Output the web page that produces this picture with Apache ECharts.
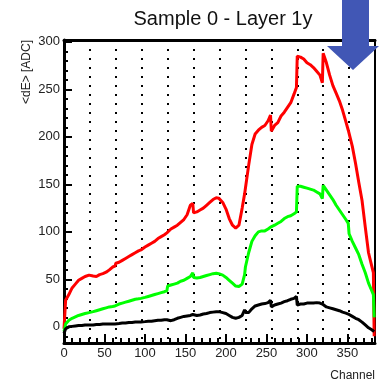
<!DOCTYPE html>
<html>
<head>
<meta charset="utf-8">
<script src="https://cdn.jsdelivr.net/npm/echarts@6/dist/echarts.min.js"></script>
<style>
  html, body { margin: 0; padding: 0; background: #fff; }
  #chart { width: 379px; height: 384px; }
</style>
</head>
<body>
<div id="chart"></div>
<script>
// channels sampled along the x axis (extra points at the 32-channel chip edges)
const channels = [0, 2, 6, 10, 14, 18, 22, 26, 31, 32, 36, 40, 44, 48, 52, 56, 60, 63,
  64, 68, 72, 76, 80, 84, 88, 92, 95, 96, 100, 104, 108, 112, 116, 120, 124, 127,
  128, 132, 136, 140, 144, 148, 152, 156, 159, 160, 164, 168, 172, 176, 180, 184, 188, 191,
  192, 196, 200, 204, 208, 212, 216, 220, 223, 224, 228, 232, 236, 240, 244, 248, 252, 255,
  256, 260, 264, 268, 272, 276, 280, 284, 287, 288, 292, 296, 300, 304, 308, 312, 316, 319,
  320, 324, 328, 332, 336, 340, 344, 348, 351, 352, 356, 360, 364, 368, 372, 376, 380, 382, 383]

const redValues = [-2, 28, 34, 41, 45, 49, 51, 53, 54.5, 55, 53.5, 53, 55, 56, 57.5, 60, 63, 64,
  67, 68, 70, 72, 74, 76, 78, 80, 81, 82, 84, 86, 88, 90, 93, 95, 97, 99,
  101, 103, 105, 107, 110, 113, 118, 128, 130, 120, 121, 123, 125, 128, 131, 134, 136, 135.5,
  135, 131, 124, 114, 107, 104, 107, 125, 140, 146, 170, 192, 203, 207, 210, 212, 217, 223,
  206, 212, 215, 222, 226, 231, 236, 245, 252, 285, 284, 282, 278, 276, 273, 269, 265, 257,
  288, 278, 265, 254, 246, 238, 228, 216, 207, 205, 190, 172, 152, 133, 105, 78, 64, 57, -10]

const greenValues = [-5, 3, 7, 9, 10.5, 12, 13, 14, 15, 15.5, 16, 17, 18, 19, 20, 21, 21.5, 22,
  23.5, 24, 25, 26, 27, 28, 29, 29.5, 30, 30.5, 31, 32, 33, 34, 35, 36, 37, 38,
  43, 44, 45, 46, 48, 49, 51, 53, 57, 52, 51.5, 52, 53, 54, 55, 56, 56.5, 56,
  56, 54.5, 52, 49, 46, 43, 42.5, 45, 55, 63, 78, 90, 96, 100, 101, 101, 103, 105,
  104, 107, 109, 111, 114, 116, 117, 119, 121, 148, 148, 147, 146, 145, 144, 142, 140, 135,
  149, 144, 139, 134, 128, 123, 118, 113, 109, 98, 90, 83, 76, 66, 57, 46, 38, 34, 10]

const blackValues = [-7, -2, 0, 0.5, 1, 1.5, 1.5, 2, 2, 2.5, 2, 2.5, 2.5, 3, 3, 3, 3, 3,
  3.5, 3.5, 4, 4, 4.5, 4.5, 5, 5, 5, 5.5, 5.5, 6, 6, 6.5, 7, 7, 7.5, 7.5,
  6, 6.5, 7.5, 9, 10, 11, 11.5, 12, 13, 12, 12, 12.5, 13.5, 14, 15, 15.5, 16, 16,
  16, 15, 14, 12, 10, 9, 10, 12, 18, 15, 15, 19, 22, 23, 24, 24.5, 25.5, 28,
  21, 23, 24, 25, 26.5, 27.5, 29, 30, 32, 23, 24, 24, 25, 25, 25, 25.5, 25, 24,
  23, 21, 20, 19, 18, 17, 15.5, 14.5, 13.5, 13, 11, 9, 7.5, 5, 2, -1, -3, -4, -5]

const xMajorTicks = [0, 50, 100, 150, 200, 250, 300, 350]
const yMajorTicks = [0, 50, 100, 150, 200, 250, 300]
const xMinorTicks = []
for (let v = 10; v <= 380; v += 10) if (v % 50 !== 0) xMinorTicks.push(v)
const yMinorTicks = []
for (let v = -10; v <= 300; v += 10) if (v % 50 !== 0) yMinorTicks.push(v)

const X_MIN = 0, X_MAX = 384, Y_MIN = -17, Y_MAX = 302
const font = 'Liberation Sans, Arial, sans-serif'

function pairs(vals) {
  return channels.map((c, i) => [c, vals[i]])
}

function plainAxis(extra) {
  return Object.assign({
    type: 'value',
    axisLine: { show: false, onZero: false },
    axisTick: { show: false },
    axisLabel: { show: false },
    splitLine: { show: false }
  }, extra)
}

const chart = echarts.init(document.getElementById('chart'))
chart.setOption({
  animation: false,
  backgroundColor: '#fff',
  title: {
    text: 'Sample 0 - Layer 1y',
    left: 218,
    top: 4,
    textAlign: 'center',
    textStyle: { fontFamily: font, fontSize: 20, fontWeight: 'normal', color: '#111' }
  },
  grid: { left: 64, right: 4, top: 40, bottom: 41 },
  xAxis: [
    plainAxis({
      min: X_MIN, max: X_MAX, position: 'bottom',
      axisLine: { show: true, onZero: false, lineStyle: { color: '#000', width: 3 } },
      axisTick: { show: true, inside: true, length: 9, customValues: xMajorTicks, lineStyle: { color: '#000', width: 2 } },
      axisLabel: { show: true, customValues: xMajorTicks, fontFamily: font, fontSize: 13, color: '#222', margin: 4 },
      name: 'Channel', nameLocation: 'end', nameGap: 0,
      nameTextStyle: { fontFamily: font, fontSize: 12, color: '#222', align: 'right', verticalAlign: 'top', padding: [27, 0, 0, 0] }
    }),
    plainAxis({
      min: X_MIN, max: X_MAX, position: 'bottom',
      axisTick: { show: true, inside: true, length: 5, customValues: xMinorTicks, lineStyle: { color: '#000', width: 2 } }
    }),
    plainAxis({
      min: X_MIN, max: X_MAX, position: 'top',
      axisLine: { show: true, onZero: false, lineStyle: { color: '#000', width: 3 } }
    }),
    plainAxis({
      min: X_MIN, max: X_MAX, interval: 32, position: 'bottom',
      splitLine: { show: true, lineStyle: { color: '#000', width: 2, type: [2, 7] } }
    })
  ],
  yAxis: [
    plainAxis({
      min: Y_MIN, max: Y_MAX, position: 'left',
      axisLine: { show: true, onZero: false, lineStyle: { color: '#000', width: 3 } },
      axisTick: { show: true, inside: true, length: 8, customValues: yMajorTicks, lineStyle: { color: '#000', width: 2 } },
      axisLabel: { show: true, customValues: yMajorTicks, fontFamily: font, fontSize: 13, color: '#222', margin: 4 }
    }),
    plainAxis({
      min: Y_MIN, max: Y_MAX, position: 'left',
      axisTick: { show: true, inside: true, length: 4, customValues: yMinorTicks, lineStyle: { color: '#000', width: 2 } }
    }),
    plainAxis({
      min: Y_MIN, max: Y_MAX, position: 'right',
      axisLine: { show: true, onZero: false, lineStyle: { color: '#000', width: 2 } }
    })
  ],
  series: [
    { name: 'red', type: 'line', data: pairs(redValues), showSymbol: false, z: 3,
      lineStyle: { color: '#ff0000', width: 3 } },
    { name: 'green', type: 'line', data: pairs(greenValues), showSymbol: false, z: 3,
      lineStyle: { color: '#00ff00', width: 3 } },
    { name: 'black', type: 'line', data: pairs(blackValues), showSymbol: false, z: 3,
      lineStyle: { color: '#000000', width: 3 } }
  ],
  graphic: [
    {
      type: 'text', x: 27, y: 40, rotation: Math.PI / 2,
      style: { text: '<dE> [ADC]', fontFamily: font, fontSize: 12, fill: '#222', align: 'right', verticalAlign: 'middle' }
    },
    {
      type: 'polygon', z: 100,
      shape: { points: [[342, 0], [369, 0], [369, 46], [379, 46], [353, 70], [327, 46], [342, 46]] },
      style: { fill: '#4157b5' }
    }
  ]
})
</script>
</body>
</html>
